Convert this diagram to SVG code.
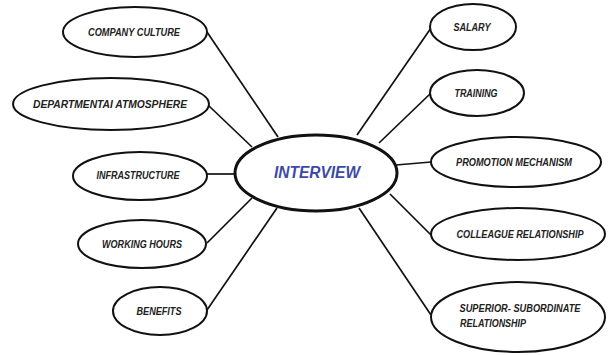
<svg xmlns="http://www.w3.org/2000/svg" width="608" height="355" viewBox="0 0 608 355">
  <style>
    .node ellipse { fill: #ffffff; stroke: #111111; stroke-width: 2; }
    .node text { font-family: "Liberation Sans", "DejaVu Sans", sans-serif; font-weight: bold; font-style: italic; font-size: 10px; fill: #222222; text-anchor: middle; dominant-baseline: central; }
    #interview ellipse { stroke-width: 3; }
    #interview text { font-size: 16px; fill: #3c4aa8; }
    #links line { stroke: #111111; stroke-width: 1.7; }
  </style>
  <rect width="608" height="355" fill="#ffffff"/>

  <g id="links">
    <line x1="207" y1="32" x2="278" y2="137"/>
    <line x1="208" y1="105" x2="252" y2="147"/>
    <line x1="207" y1="174" x2="236" y2="174"/>
    <line x1="207" y1="243" x2="252" y2="198"/>
    <line x1="207" y1="310" x2="277" y2="208"/>
    <line x1="431" y1="28" x2="357" y2="135"/>
    <line x1="431" y1="93" x2="379" y2="143"/>
    <line x1="431" y1="162" x2="396" y2="165"/>
    <line x1="431" y1="235" x2="390" y2="194"/>
    <line x1="431" y1="315" x2="359" y2="208"/>
  </g>

  <g id="interview" class="node">
    <ellipse cx="316" cy="173" rx="81" ry="38"/>
    <text x="317" y="172" textLength="86" lengthAdjust="spacingAndGlyphs">INTERVIEW</text>
  </g>

  <g id="company-culture" class="node">
    <ellipse cx="135" cy="32" rx="72" ry="25"/>
    <text x="134" y="32" textLength="92" lengthAdjust="spacingAndGlyphs">COMPANY CULTURE</text>
  </g>
  <g id="departmental-atmosphere" class="node">
    <ellipse cx="111" cy="104" rx="98" ry="26"/>
    <text x="110" y="104" textLength="154" lengthAdjust="spacingAndGlyphs">DEPARTMENTAI ATMOSPHERE</text>
  </g>
  <g id="infrastructure" class="node">
    <ellipse cx="140" cy="176" rx="67" ry="24"/>
    <text x="138" y="175" textLength="83" lengthAdjust="spacingAndGlyphs">INFRASTRUCTURE</text>
  </g>
  <g id="working-hours" class="node">
    <ellipse cx="142" cy="244" rx="64" ry="24"/>
    <text x="142" y="244" textLength="80" lengthAdjust="spacingAndGlyphs">WORKING HOURS</text>
  </g>
  <g id="benefits" class="node">
    <ellipse cx="160" cy="311" rx="47" ry="24"/>
    <text x="159" y="311" textLength="45" lengthAdjust="spacingAndGlyphs">BENEFITS</text>
  </g>

  <g id="salary" class="node">
    <ellipse cx="473" cy="27" rx="43" ry="23"/>
    <text x="472" y="27" textLength="37" lengthAdjust="spacingAndGlyphs">SALARY</text>
  </g>
  <g id="training" class="node">
    <ellipse cx="477" cy="93" rx="47" ry="23"/>
    <text x="476" y="93" textLength="43" lengthAdjust="spacingAndGlyphs">TRAINING</text>
  </g>
  <g id="promotion-mechanism" class="node">
    <ellipse cx="516" cy="162" rx="85" ry="25"/>
    <text x="514" y="162" textLength="116" lengthAdjust="spacingAndGlyphs">PROMOTION MECHANISM</text>
  </g>
  <g id="colleague-relationship" class="node">
    <ellipse cx="518" cy="234" rx="87" ry="26"/>
    <text x="520" y="234" textLength="127" lengthAdjust="spacingAndGlyphs">COLLEAGUE RELATIONSHIP</text>
  </g>
  <g id="superior-subordinate" class="node">
    <ellipse cx="518" cy="317" rx="87" ry="35"/>
    <text x="520" y="308" textLength="121" lengthAdjust="spacingAndGlyphs">SUPERIOR- SUBORDINATE</text>
    <text x="493" y="323" textLength="66" lengthAdjust="spacingAndGlyphs">RELATIONSHIP</text>
  </g>
</svg>
